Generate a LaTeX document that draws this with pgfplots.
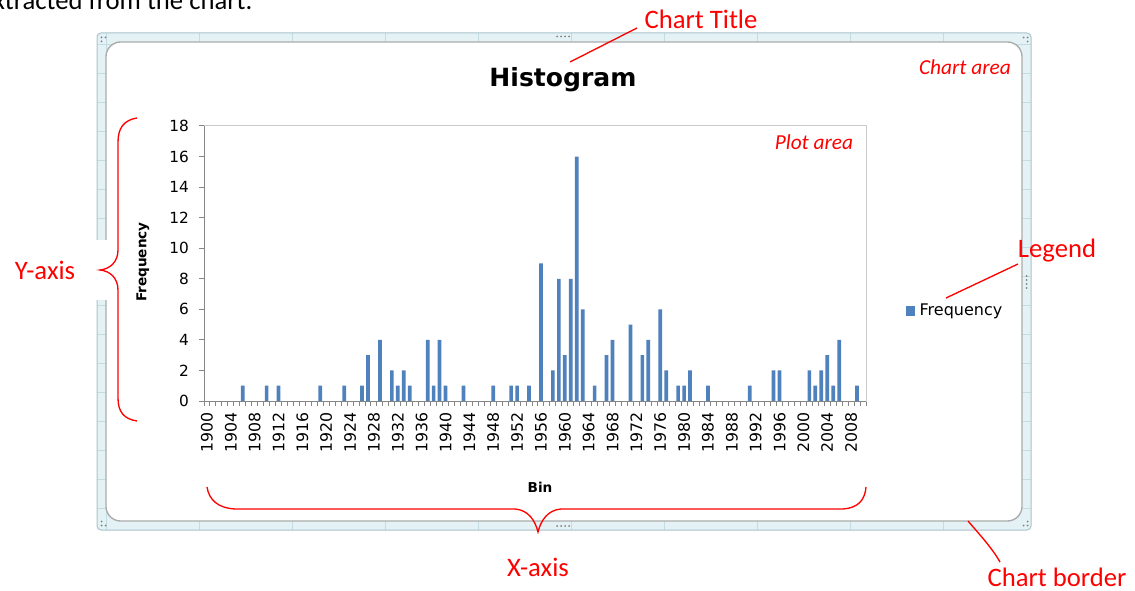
\documentclass[border=0pt]{standalone}
\usepackage{pgfplots}
\pgfplotsset{compat=1.18}
\usepackage{pgfplotstable}
\usepackage{fontspec}
\setmainfont{DejaVu Sans}
\newfontfamily\calibri{Carlito}
\definecolor{barblue}{HTML}{4F81BD}
\definecolor{axisgray}{HTML}{868686}
\definecolor{plotgray}{HTML}{CACACA}
\definecolor{bandfill}{HTML}{E4F2F5}
\definecolor{bandline}{HTML}{C3DCE2}
\definecolor{bandedge}{HTML}{A9C4CB}
\definecolor{innergray}{HTML}{ABABAB}
\definecolor{dotgray}{HTML}{7F7F7F}

\pgfplotstableread{
year freq
1906 1
1910 1
1912 1
1919 1
1923 1
1926 1
1927 3
1929 4
1931 2
1932 1
1933 2
1934 1
1937 4
1938 1
1939 4
1940 1
1943 1
1948 1
1951 1
1952 1
1954 1
1956 9
1958 2
1959 8
1960 3
1961 8
1962 16
1963 6
1965 1
1967 3
1968 4
1971 5
1973 3
1974 4
1976 6
1977 2
1979 1
1980 1
1981 2
1984 1
1991 1
1995 2
1996 2
2001 2
2002 1
2003 2
2004 3
2005 1
2006 4
2009 1
}\histdata

\begin{document}
\begin{tikzpicture}
\useasboundingbox (0,0) rectangle (851.25pt,-443.25pt);
% ---- chart frame (pixel coordinates, y downwards)
\begin{scope}[x=0.75pt,y=-0.75pt]
\fill[bandfill, rounded corners=3pt] (97,33) rectangle (1031,530);
\begin{scope}
\clip[rounded corners=3pt] (97,33) rectangle (1031,530);
\foreach \gx in {106,199,292,385,478,571,664,757,850,943} \draw[bandline, line width=0.75pt] (\gx,33) -- (\gx,530);
\foreach \gy in {44.3,73.3,...,510} \draw[bandline, line width=0.75pt] (97,\gy) -- (1031,\gy);
\end{scope}
\draw[bandedge, line width=0.75pt, rounded corners=3pt] (97,33) rectangle (1031,530);
\filldraw[fill=white, draw=innergray, line width=1pt, rounded corners=11pt] (106,42) rectangle (1022,521);
% handles
\foreach \p in {(101.5,37.5),(105.5,37.5),(101.5,41.5),
                (1023.5,37.5),(1027.5,37.5),(1027.5,41.5),
                (101.5,525.5),(105.5,525.5),(101.5,521.5),
                (1023.5,525.5),(1027.5,525.5),(1027.5,521.5),
                (557,36.5),(561,36.5),(565,36.5),(569,36.5),
                (557,526),(561,526),(565,526),(569,526),
                (1026.5,276),(1026.5,280),(1026.5,284),(1026.5,288)}
  \fill[dotgray] \p circle (1);
\fill[white] (0,240) rectangle (107,300);
\end{scope}

\begin{axis}[
  at={(153pt,-300.75pt)}, anchor=south west,
  scale only axis, width=496.5pt, height=206.25pt,
  xmin=1899.5, xmax=2010.5, ymin=0, ymax=18,
  ybar, bar width=0.62,
  axis line style={plotgray, line width=0.75pt},
  xtick pos=bottom, ytick pos=left,
  ytick={0,2,...,18},
  xtick={1900,1904,...,2008},
  minor xtick={1899.5,1900.5,...,2010.5},
  tick align=outside,
  major tick length=3.75pt, minor tick length=3.75pt,
  major x tick style={draw=none},
  minor x tick style={axisgray, line width=0.75pt},
  major y tick style={axisgray, line width=0.75pt},
  /pgf/number format/assume math mode=true,
  x tick label style={rotate=90, anchor=east, font=\fontsize{11.8}{13}\selectfont, /pgf/number format/1000 sep={}, xshift=-1pt},
  y tick label style={font=\fontsize{11.5}{13}\selectfont, xshift=-4pt},
  legend style={at={(1.0605,0.327)}, anchor=west, draw=none, fill=none,
    font=\fontsize{12}{14}\selectfont, inner sep=0pt},
  legend cell align=left,
]
\addplot[fill=barblue, draw=none,
  legend image code/.code={\fill[barblue] (0pt,-3.75pt) rectangle (6.5pt,3.75pt);}]
  table[x=year, y=freq]{\histdata};
\addlegendentry{\hspace{1.5pt}Frequency}
\draw[axisgray, line width=0.75pt] (rel axis cs:0,1) -- (rel axis cs:0,0) -- (rel axis cs:1,0);
\end{axis}

% ---- titles and annotations
\begin{scope}[x=0.75pt,y=-0.75pt]
\clip (0,0) rectangle (1135,591);
\node[font=\fontsize{18.8}{22}\selectfont\bfseries] at (563,80) {Histogram};
\node[rotate=90, font=\fontsize{10.2}{12}\selectfont\bfseries] at (143,262) {Frequency};
\node[font=\fontsize{10.2}{12}\selectfont\bfseries] at (540,487) {Bin};

\node[anchor=base east, font=\calibri\fontsize{20}{24}\selectfont] at (257,10) {extracted from the chart.};
\node[red, font=\calibri\fontsize{20}{24}\selectfont] at (701,19) {Chart Title};
\node[red, font=\calibri\itshape\fontsize{16}{19}\selectfont] at (965,67) {Chart area};
\node[red, font=\calibri\itshape\fontsize{16}{19}\selectfont] at (814,142) {Plot area};
\node[red, font=\calibri\fontsize{20}{24}\selectfont] at (45,270) {Y-axis};
\node[red, font=\calibri\fontsize{20}{24}\selectfont] at (1057,251) {Legend};
\node[red, font=\calibri\fontsize{20}{24}\selectfont] at (538,567) {X-axis};
\node[red, inner sep=0pt, font=\calibri\fontsize{20}{24}\selectfont] at (1057,577) {Chart border};

\draw[red, line width=1pt] (637,28) -- (570,62);
\draw[red, line width=1pt] (1018,264) -- (946,298);
\draw[red, line width=1pt] (968,521) .. controls (980,535) and (992,548) .. (1000,562);
\draw[red, line width=1pt] (137,118) .. controls (124,120) and (118,128) .. (118,142) -- (118,250)
   .. controls (118,262) and (110,269) .. (100,270) .. controls (110,271) and (118,278) .. (118,290)
   -- (118,398) .. controls (118,412) and (124,419) .. (137,421);
\draw[red, line width=1pt] (207,487) .. controls (209,500) and (218,508) .. (235,509) -- (515,509)
   .. controls (528,510) and (535,520) .. (538,532) .. controls (541,520) and (548,510) .. (561,509)
   -- (843,509) .. controls (858,508) and (865,500) .. (866,487);
\end{scope}
\end{tikzpicture}
\end{document}
